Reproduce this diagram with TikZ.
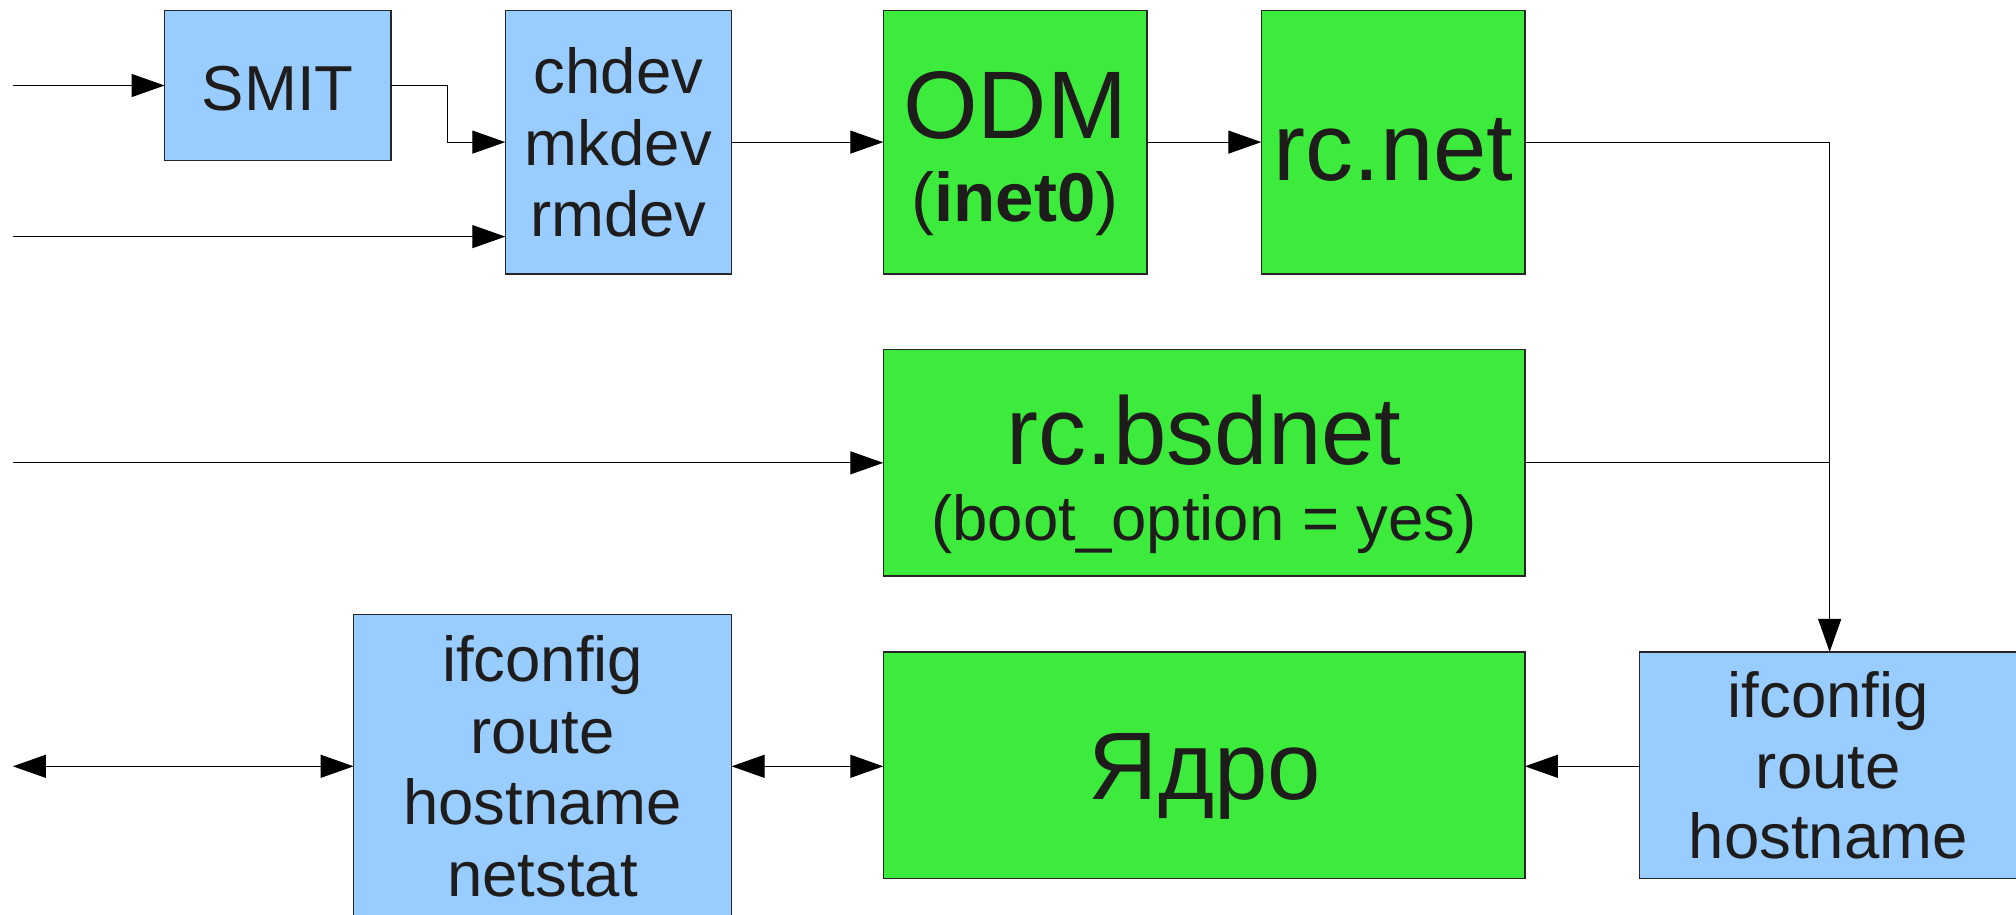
\documentclass[tikz,border=0pt]{standalone}
\usepackage{fontspec}
\setmainfont{Liberation Sans}
\usetikzlibrary{arrows.meta}
\definecolor{boxblue}{HTML}{99CCFF}
\definecolor{boxgreen}{HTML}{3DEB3D}
\definecolor{txt}{HTML}{1F1C1C}
\begin{document}
\begin{tikzpicture}[x=1pt,y=-1pt,
  box/.style={draw=black!85, line width=1.2pt, rectangle, inner sep=0pt, outer sep=0pt},
  bluebox/.style={box, fill=boxblue},
  greenbox/.style={box, fill=boxgreen},
  small/.style={anchor=base, inner sep=0pt, text=txt, font=\fontsize{63.5}{71}\selectfont},
  big/.style={anchor=base, inner sep=0pt, text=txt, font=\fontsize{96}{100}\selectfont},
  bsmall/.style={anchor=base, inner sep=0pt, text=txt, font=\fontsize{69}{72}\selectfont},
  conn/.style={line width=1.2pt, draw=black},
  arr/.style={conn, -{Triangle[length=33pt,width=23pt]}},
  darr/.style={conn, {Triangle[length=33pt,width=23pt]}-{Triangle[length=33pt,width=23pt]}}
]
\clip (0,0) rectangle (2016,914);
\fill[white] (0,0) rectangle (2016,914);

% boxes
\node[bluebox, minimum width=226.3pt, minimum height=150.4pt] (smit) at (277.75,85.5) {};
\node[bluebox, minimum width=226.3pt, minimum height=263.6pt] (chdev) at (618.45,142.1) {};
\node[greenbox, minimum width=263.6pt, minimum height=263.6pt] (odm) at (1015.1,142.1) {};
\node[greenbox, minimum width=263.6pt, minimum height=263.6pt] (rcnet) at (1393.1,142.1) {};
\node[greenbox, minimum width=641.6pt, minimum height=226.3pt] (bsd) at (1204.1,462.85) {};
\node[bluebox, minimum width=378pt, minimum height=315.4pt] (ifl) at (542.6,772.3) {};
\node[greenbox, minimum width=641.6pt, minimum height=226.2pt] (kern) at (1204.1,765) {};
\node[bluebox, minimum width=380.7pt, minimum height=226.2pt] (ifr) at (1829.65,765) {};

% texts
\node[small] (tsmit) at (277.75,110.6) {SMIT};
\node[small] (tch) at (618.45,93.9) {chdev};
\node[small] (tmk) at (618.45,165.9) {mkdev};
\node[small] (trm) at (618.45,236.6) {rmdev};
\node[big] (todm) at (1015.1,138.9) {ODM};
\node[bsmall] (tinet) at (1015.1,221.1) {(\textbf{inet0})};
\node[big] (trcnet) at (1393.6,180) {rc.net};
\node[big] (tbsd) at (1204.1,464) {rc.bsdnet};
\node[small] (tboot) at (1204.1,540) {(boot\_option = yes)};
\node[small] (til1) at (542.6,681.4) {ifconfig};
\node[small] (til2) at (542.6,753.4) {route};
\node[small] (til3) at (542.6,824) {hostname};
\node[small] (til4) at (542.6,896) {netstat};
\node[big] (tkern) at (1205,799.7) {Ядро};
\node[small] (tir1) at (1828.3,717.4) {ifconfig};
\node[small] (tir2) at (1828.3,788) {route};
\node[small] (tir3) at (1828.3,858.8) {hostname};

% free ends
\coordinate (in1) at (12.9,85.5);
\coordinate (in2) at (12.9,236.6);
\coordinate (in3) at (12.9,462.85);
\coordinate (in4) at (12.9,766.3);
\coordinate (bend) at (447.4,85.5);

% connectors
\draw[arr] (in1) -- (smit.west);
\draw[arr] (smit.east) -- (bend) |- (chdev.west);
\draw[arr] (in2) -- (in2 -| chdev.west);
\draw[arr] (chdev.east) -- (odm.west);
\draw[arr] (odm.east) -- (rcnet.west);
\draw[arr] (rcnet.east) -| (ifr.north);
\draw[conn] (bsd.east) -- (bsd.east -| ifr.north);
\draw[arr] (in3) -- (bsd.west);
\draw[darr] (in4) -- (in4 -| ifl.west);
\draw[darr] (ifl.east |- in4) -- (in4 -| kern.west);
\draw[arr] (ifr.west |- in4) -- (in4 -| kern.east);
\end{tikzpicture}
\end{document}
